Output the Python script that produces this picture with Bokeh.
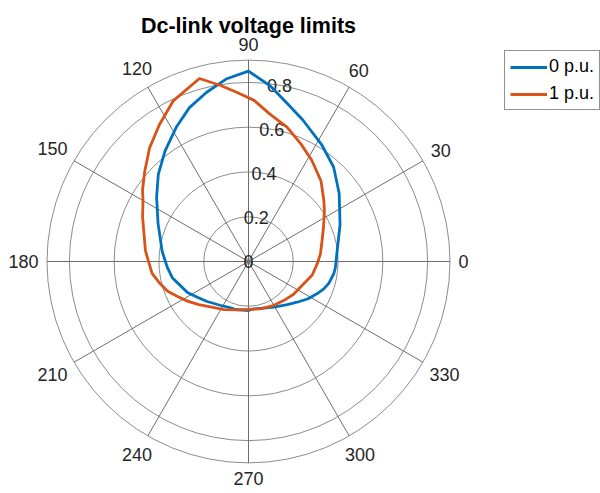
import numpy as np
from bokeh.plotting import figure
from bokeh.models import Range1d, Legend, LegendItem
from bokeh.core.properties import value
from bokeh.embed import file_html
from bokeh.resources import INLINE

# ---------------- data ----------------
title_text = "Dc-link voltage limits"
series_names = ["0 p.u.", "1 p.u."]

blue_theta = [-84, -72, -61, -48, -40, -32, -25, -20, -15, -8, -4, 7, 22, 37, 48, 58,
              69, 76, 83, 90, 97, 104, 111, 118, 127, 136, 145, 157, 173, 184, 192,
              198, 207, 215, 224, 237, 249, 255, 270]
blue_r = [0.213, 0.219, 0.233, 0.259, 0.283, 0.314, 0.339, 0.358, 0.372, 0.385, 0.389,
          0.399, 0.441, 0.507, 0.568, 0.616, 0.677, 0.725, 0.791, 0.85, 0.821, 0.778,
          0.736, 0.683, 0.619, 0.56, 0.501, 0.439, 0.389, 0.364, 0.348, 0.327, 0.306,
          0.279, 0.257, 0.233, 0.222, 0.222, 0.219]

orange_theta = [-76, -62, -48, -36, -22, -12, -2, 6, 16, 25, 34, 39, 48, 58, 66, 74,
                82, 88, 94, 99, 105, 115, 123, 131, 139, 146, 150, 157, 174, 187, 193,
                200, 206, 213, 221, 230, 243, 257]
orange_r = [0.218, 0.225, 0.235, 0.249, 0.266, 0.291, 0.307, 0.323, 0.342, 0.37, 0.409,
            0.433, 0.484, 0.533, 0.575, 0.624, 0.667, 0.72, 0.758, 0.796, 0.846, 0.793,
            0.73, 0.673, 0.614, 0.571, 0.544, 0.514, 0.463, 0.434, 0.411, 0.386, 0.355,
            0.325, 0.294, 0.265, 0.241, 0.222]

r_ticks = [0, 0.2, 0.4, 0.6, 0.8]
r_tick_labels = ["0", "0.2", "0.4", "0.6", "0.8"]
r_max = 0.9
theta_ticks = [0, 30, 60, 90, 120, 150, 180, 210, 240, 270, 300, 330]
theta_tick_labels = [str(t) for t in theta_ticks]
r_label_angle = 80

# ---------------- layout ----------------
W, H = 600, 493
S = 223.9          # pixels per radial unit
cx, cy = 248, 261  # pole position (px from left / top)

FONT = "Liberation Sans"
TXT = "#262626"
RING = "#8c8c8c"
SPOKE = "#6e6e6e"

p = figure(width=W, height=H, output_backend="svg", toolbar_location=None,
           min_border=0,
           x_range=Range1d(-cx / S, (W - cx) / S),
           y_range=Range1d(-(H - cy) / S, cy / S))
p.axis.visible = False
p.grid.visible = False
p.outline_line_color = None
p.background_fill_color = "white"
p.border_fill_color = "white"

# rings
rings = [r for r in r_ticks if r > 0] + [r_max]
p.circle(x=[0] * len(rings), y=[0] * len(rings), radius=rings,
         fill_color=None, line_color=RING, line_width=1)

# spokes
th = np.deg2rad(theta_ticks)
p.segment(x0=[0] * len(th), y0=[0] * len(th),
          x1=list(r_max * np.cos(th)), y1=list(r_max * np.sin(th)),
          line_color=SPOKE, line_width=1)

# angle labels
lx, ly = [], []
for t, lab in zip(theta_ticks, theta_tick_labels):
    a = np.deg2rad(t)
    w = len(lab) * 10.0
    h = 13.0
    half = abs(np.cos(a)) * w / 2 + abs(np.sin(a)) * h / 2
    d = (r_max * S + 8.5 + half) / S
    lx.append(d * np.cos(a))
    ly.append(d * np.sin(a))
p.text(x=lx, y=ly, text=theta_tick_labels, text_align="center",
       text_baseline="middle", text_font=value(FONT),
       text_font_size=value("18px"), text_color=TXT)

# radial tick labels
ra = np.deg2rad(r_label_angle)
p.text(x=[r * np.cos(ra) for r in r_ticks], y=[r * np.sin(ra) for r in r_ticks],
       text=r_tick_labels, text_align="center", text_baseline="middle",
       text_font=value(FONT), text_font_size=value("18px"), text_color=TXT)

# curves
def xy(theta, r):
    t = np.deg2rad(list(theta) + [theta[0]])
    rr = np.array(list(r) + [r[0]])
    return list(rr * np.cos(t)), list(rr * np.sin(t))

bx, by = xy(blue_theta, blue_r)
ox, oy = xy(orange_theta, orange_r)
rb = p.line(bx, by, line_color="#0072BD", line_width=2.8, line_join="round")
ro = p.line(ox, oy, line_color="#D95319", line_width=2.8, line_join="round")

# title
p.text(x=[0], y=[(cy - 25) / S], text=[title_text], text_align="center",
       text_baseline="alphabetic", text_font=value(FONT),
       text_font_size=value("21.5px"), text_font_style="bold", text_color="black")

legend = Legend(items=[LegendItem(label=series_names[0], renderers=[rb]),
                       LegendItem(label=series_names[1], renderers=[ro])],
                location=(504, H - 110))
legend.border_line_color = TXT
legend.border_line_width = 1
legend.background_fill_color = "white"
legend.background_fill_alpha = 1
legend.label_text_font = FONT
legend.label_text_font_size = "18px"
legend.label_text_color = "black"
legend.glyph_width = 37
legend.glyph_height = 20
legend.label_height = 20
legend.padding = 5
legend.spacing = 6
legend.label_standoff = 2
legend.margin = 0
p.add_layout(legend)

open("out.html", "w").write(file_html(p, INLINE))
